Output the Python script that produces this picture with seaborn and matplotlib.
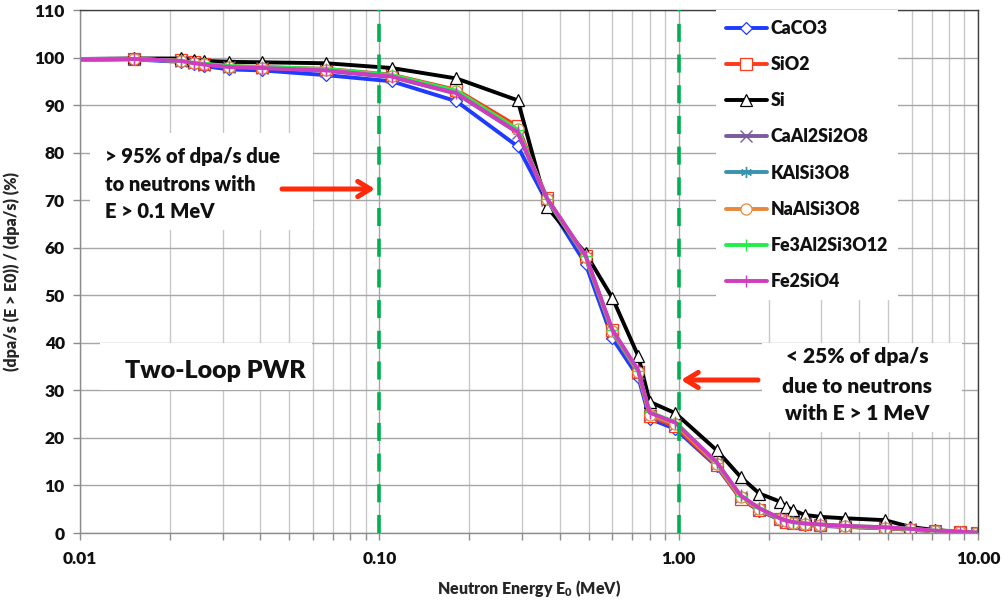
import numpy as np
import pandas as pd
import matplotlib
matplotlib.use("Agg")
import matplotlib.pyplot as plt
import matplotlib.ticker as mticker
from matplotlib.patches import Rectangle
import seaborn as sns

# ---------------- data ----------------
energy = [0.01, 0.0151, 0.0217, 0.024, 0.026, 0.0315, 0.0405, 0.0664, 0.11, 0.181,
          0.29, 0.363, 0.489, 0.6, 0.733, 0.8, 0.975, 1.34, 1.61, 1.86,
          2.18, 2.29, 2.41, 2.64, 2.97, 3.59, 4.89, 5.92, 7.17, 8.7, 9.9]

caco3 = [99.6, 99.6, 99.1, 98.6, 98.2, 97.5, 97.3, 96.3, 95.0, 90.8,
         81.3, 69.6, 56.6, 41.0, 32.8, 24.0, 21.9, 14.0, 7.2, 4.7,
         2.8, 2.3, 2.0, 1.7, 1.5, 1.3, 1.0, 0.7, 0.4, 0.2, 0.1]
sio2 = [99.6, 99.7, 99.4, 99.0, 98.7, 98.2, 98.0, 97.6, 96.4, 93.2,
        85.5, 70.4, 58.2, 42.6, 33.8, 24.6, 22.4, 14.2, 7.2, 4.8,
        2.9, 2.4, 2.1, 1.8, 1.6, 1.3, 1.0, 0.7, 0.4, 0.2, 0.1]
si = [99.7, 99.8, 99.8, 99.5, 99.3, 99.1, 99.0, 98.8, 97.8, 95.6,
      91.0, 68.6, 58.8, 49.5, 37.2, 27.6, 25.2, 17.4, 11.8, 8.3,
      6.6, 5.5, 4.8, 3.8, 3.4, 3.1, 2.7, 1.3, 0.6, 0.3, 0.1]
caal2si2o8 = [99.6, 99.7, 99.3, 98.8, 98.5, 98.0, 97.8, 97.2, 95.9, 92.4,
              84.2, 70.1, 57.8, 42.1, 33.6, 24.8, 22.8, 14.5, 7.5, 4.9,
              2.9, 2.4, 2.1, 1.8, 1.6, 1.4, 1.1, 0.8, 0.5, 0.3, 0.1]
kalsi3o8 = [99.6, 99.7, 99.3, 98.9, 98.6, 98.1, 97.9, 97.4, 96.1, 92.7,
            84.6, 70.2, 58.0, 42.4, 33.9, 25.0, 23.0, 14.6, 7.6, 5.0,
            3.0, 2.5, 2.2, 1.9, 1.7, 1.4, 1.1, 0.8, 0.5, 0.3, 0.1]
naalsi3o8 = [99.6, 99.7, 99.3, 98.9, 98.6, 98.1, 97.9, 97.4, 96.2, 92.9,
             84.9, 70.3, 58.1, 42.5, 33.9, 24.9, 22.9, 14.5, 7.5, 5.0,
             3.0, 2.5, 2.2, 1.9, 1.7, 1.4, 1.1, 0.8, 0.5, 0.3, 0.1]
fe3al2si3o12 = [99.6, 99.7, 99.3, 98.9, 98.7, 98.2, 98.0, 97.6, 96.3, 93.0,
                84.8, 70.3, 58.2, 42.6, 34.0, 25.4, 23.3, 14.8, 7.8, 5.2,
                3.1, 2.6, 2.3, 2.0, 1.8, 1.5, 1.2, 0.9, 0.5, 0.3, 0.1]
fe2sio4 = [99.6, 99.7, 99.3, 98.8, 98.5, 98.0, 97.8, 97.3, 96.0, 92.5,
           84.3, 70.4, 58.3, 42.8, 34.2, 25.3, 23.2, 14.9, 7.9, 5.2,
           3.1, 2.6, 2.3, 2.0, 1.8, 1.5, 1.2, 0.9, 0.5, 0.3, 0.1]

series_names = ["CaCO3", "SiO2", "Si", "CaAl2Si2O8", "KAlSi3O8",
                "NaAlSi3O8", "Fe3Al2Si3O12", "Fe2SiO4"]
series_values = [caco3, sio2, si, caal2si2o8, kalsi3o8, naalsi3o8, fe3al2si3o12, fe2sio4]

x_ticks = [0.01, 0.1, 1, 10]
x_tick_labels = ["0.01", "0.10", "1.00", "10.00"]
y_ticks = list(range(0, 111, 10))

# ---------------- style ----------------
sns.set_style("white")
plt.rcParams["font.family"] = ["Lato", "DejaVu Sans"]
plt.rcParams["font.weight"] = "bold"
plt.rcParams["mathtext.fontset"] = "custom"
plt.rcParams["mathtext.rm"] = "Lato:heavy"
plt.rcParams["mathtext.bf"] = "Lato:heavy"
plt.rcParams["mathtext.it"] = "Lato:italic"
plt.rcParams["text.color"] = "#111111"
WEIGHT = "heavy"

colors = ["#1F3BFF", "#FF3A1A", "#000000", "#7B5A9E", "#3A93AD",
          "#E8893A", "#22EE4A", "#D03CC0"]
markers = ["D", "s", "^", "x", (6, 2, 0), "o", "+", "|"]
msizes = [6.5, 9, 8.5, 8, 8, 8, 9, 9]

W, H = 1003, 606
fig = plt.figure(figsize=(W / 100, H / 100), dpi=100)
L, R, T, B = 80, 978, 10, 533
ax = fig.add_axes([L / W, 1 - B / H, (R - L) / W, (B - T) / H])

for name, vals, c, m, ms in zip(series_names, series_values, colors, markers, msizes):
    d = pd.DataFrame({"energy": energy, "value": vals})
    filled = m in ("D", "s", "^", "o")
    sns.lineplot(data=d, x="energy", y="value", ax=ax, color=c, lw=2.8,
                 marker=m, markersize=ms, markeredgecolor=c,
                 markerfacecolor="white" if filled else c,
                 markeredgewidth=0.9 if filled else 1.0,
                 markevery=slice(1, None), label=name, errorbar=None,
                 sort=False, estimator=None, legend=False)

ax.set_xscale("log")
ax.set_xlim(0.01, 10)
ax.set_ylim(0, 110)
ax.set_xticks(x_ticks)
ax.set_xticklabels(x_tick_labels)
ax.xaxis.set_minor_locator(mticker.LogLocator(base=10, subs=np.arange(2, 10)))
ax.xaxis.set_minor_formatter(mticker.NullFormatter())
ax.set_yticks(y_ticks)

ax.set_axisbelow(True)
ax.grid(True, which="major", axis="both", color="#A6A6A6", lw=1.0)
ax.grid(True, which="minor", axis="x", color="#C8C8C8", lw=1.0)

ax.tick_params(axis="both", which="both", direction="out", length=5,
               width=1, color="#8C8C8C", labelsize=12.5, labelcolor="#111111")
ax.tick_params(axis="x", which="both", bottom=True, pad=8)
ax.tick_params(axis="y", left=True, pad=6)
for lab in ax.get_xticklabels() + ax.get_yticklabels():
    lab.set_fontweight(WEIGHT)

for s in ["left", "bottom"]:
    ax.spines[s].set_color("#8C8C8C")
    ax.spines[s].set_linewidth(1)
for s in ["top", "right"]:
    ax.spines[s].set_color("#404040")
    ax.spines[s].set_linewidth(1)

ax.set_xlabel(r"Neutron Energy E$_{\mathbf{0}}$ (MeV)", fontsize=11.5,
              fontweight=WEIGHT, labelpad=8)
ax.set_ylabel("(dpa/s (E > E0)) / (dpa/s) (%)", fontsize=11.5,
              fontweight=WEIGHT, labelpad=10)

# vertical dashed marker lines
for xv in [0.1, 1.0]:
    ax.axvline(xv, color="#00B050", lw=2.6, ls=(0, (5, 3.5)), zorder=3)

# legend
handles, labels = ax.get_legend_handles_labels()
leg = ax.legend(handles, labels, loc="upper left", bbox_to_anchor=(0.708, 1.0),
                frameon=True, fancybox=False, edgecolor="none", facecolor="white",
                framealpha=1, fontsize=12.8, handlelength=2.35, handletextpad=0.2,
                labelspacing=1.08, borderpad=0.55, borderaxespad=0)
for t in leg.get_texts():
    t.set_fontweight(WEIGHT)

def axx(px):
    return (px - L) / (R - L)

def axy(py):
    return (B - py) / (B - T)

# white annotation boxes
for (x0, y0, x1, y1) in [(90, 133, 313, 230), (100, 343, 312, 390), (762, 343, 962, 432)]:
    ax.add_patch(Rectangle((axx(x0), axy(y1)), axx(x1) - axx(x0), axy(y0) - axy(y1),
                           transform=ax.transAxes, facecolor="white",
                           edgecolor="none", zorder=1))

left_lines = ["> 95% of dpa/s due", "to neutrons with", "E > 0.1 MeV"]
for txt, by in zip(left_lines, [163, 191, 218]):
    ax.text(axx(105), axy(by), txt, transform=ax.transAxes, fontsize=14.5,
            fontweight=WEIGHT, ha="left", va="baseline", zorder=6)

right_lines = ["< 25% of dpa/s", "due to neutrons", "with E > 1 MeV"]
for txt, by in zip(right_lines, [363, 393, 420]):
    ax.text(axx(857), axy(by), txt, transform=ax.transAxes, fontsize=15,
            fontweight=WEIGHT, ha="center", va="baseline", zorder=6)

ax.text(axx(125), axy(378), "Two-Loop PWR", transform=ax.transAxes,
        fontsize=18, fontweight=WEIGHT, ha="left", va="baseline", zorder=6)

arrow_kw = dict(arrowstyle="->,head_length=0.9,head_width=0.55", color="#FF2A0A",
                lw=3.6, shrinkA=0, shrinkB=0)
ax.annotate("", xy=(axx(375), axy(189)), xytext=(axx(282), axy(189)),
            xycoords="axes fraction", textcoords="axes fraction",
            arrowprops=arrow_kw, zorder=6)
ax.annotate("", xy=(axx(681), axy(380)), xytext=(axx(758), axy(380)),
            xycoords="axes fraction", textcoords="axes fraction",
            arrowprops=arrow_kw, zorder=6)

fig.savefig("out.png", dpi=100)
